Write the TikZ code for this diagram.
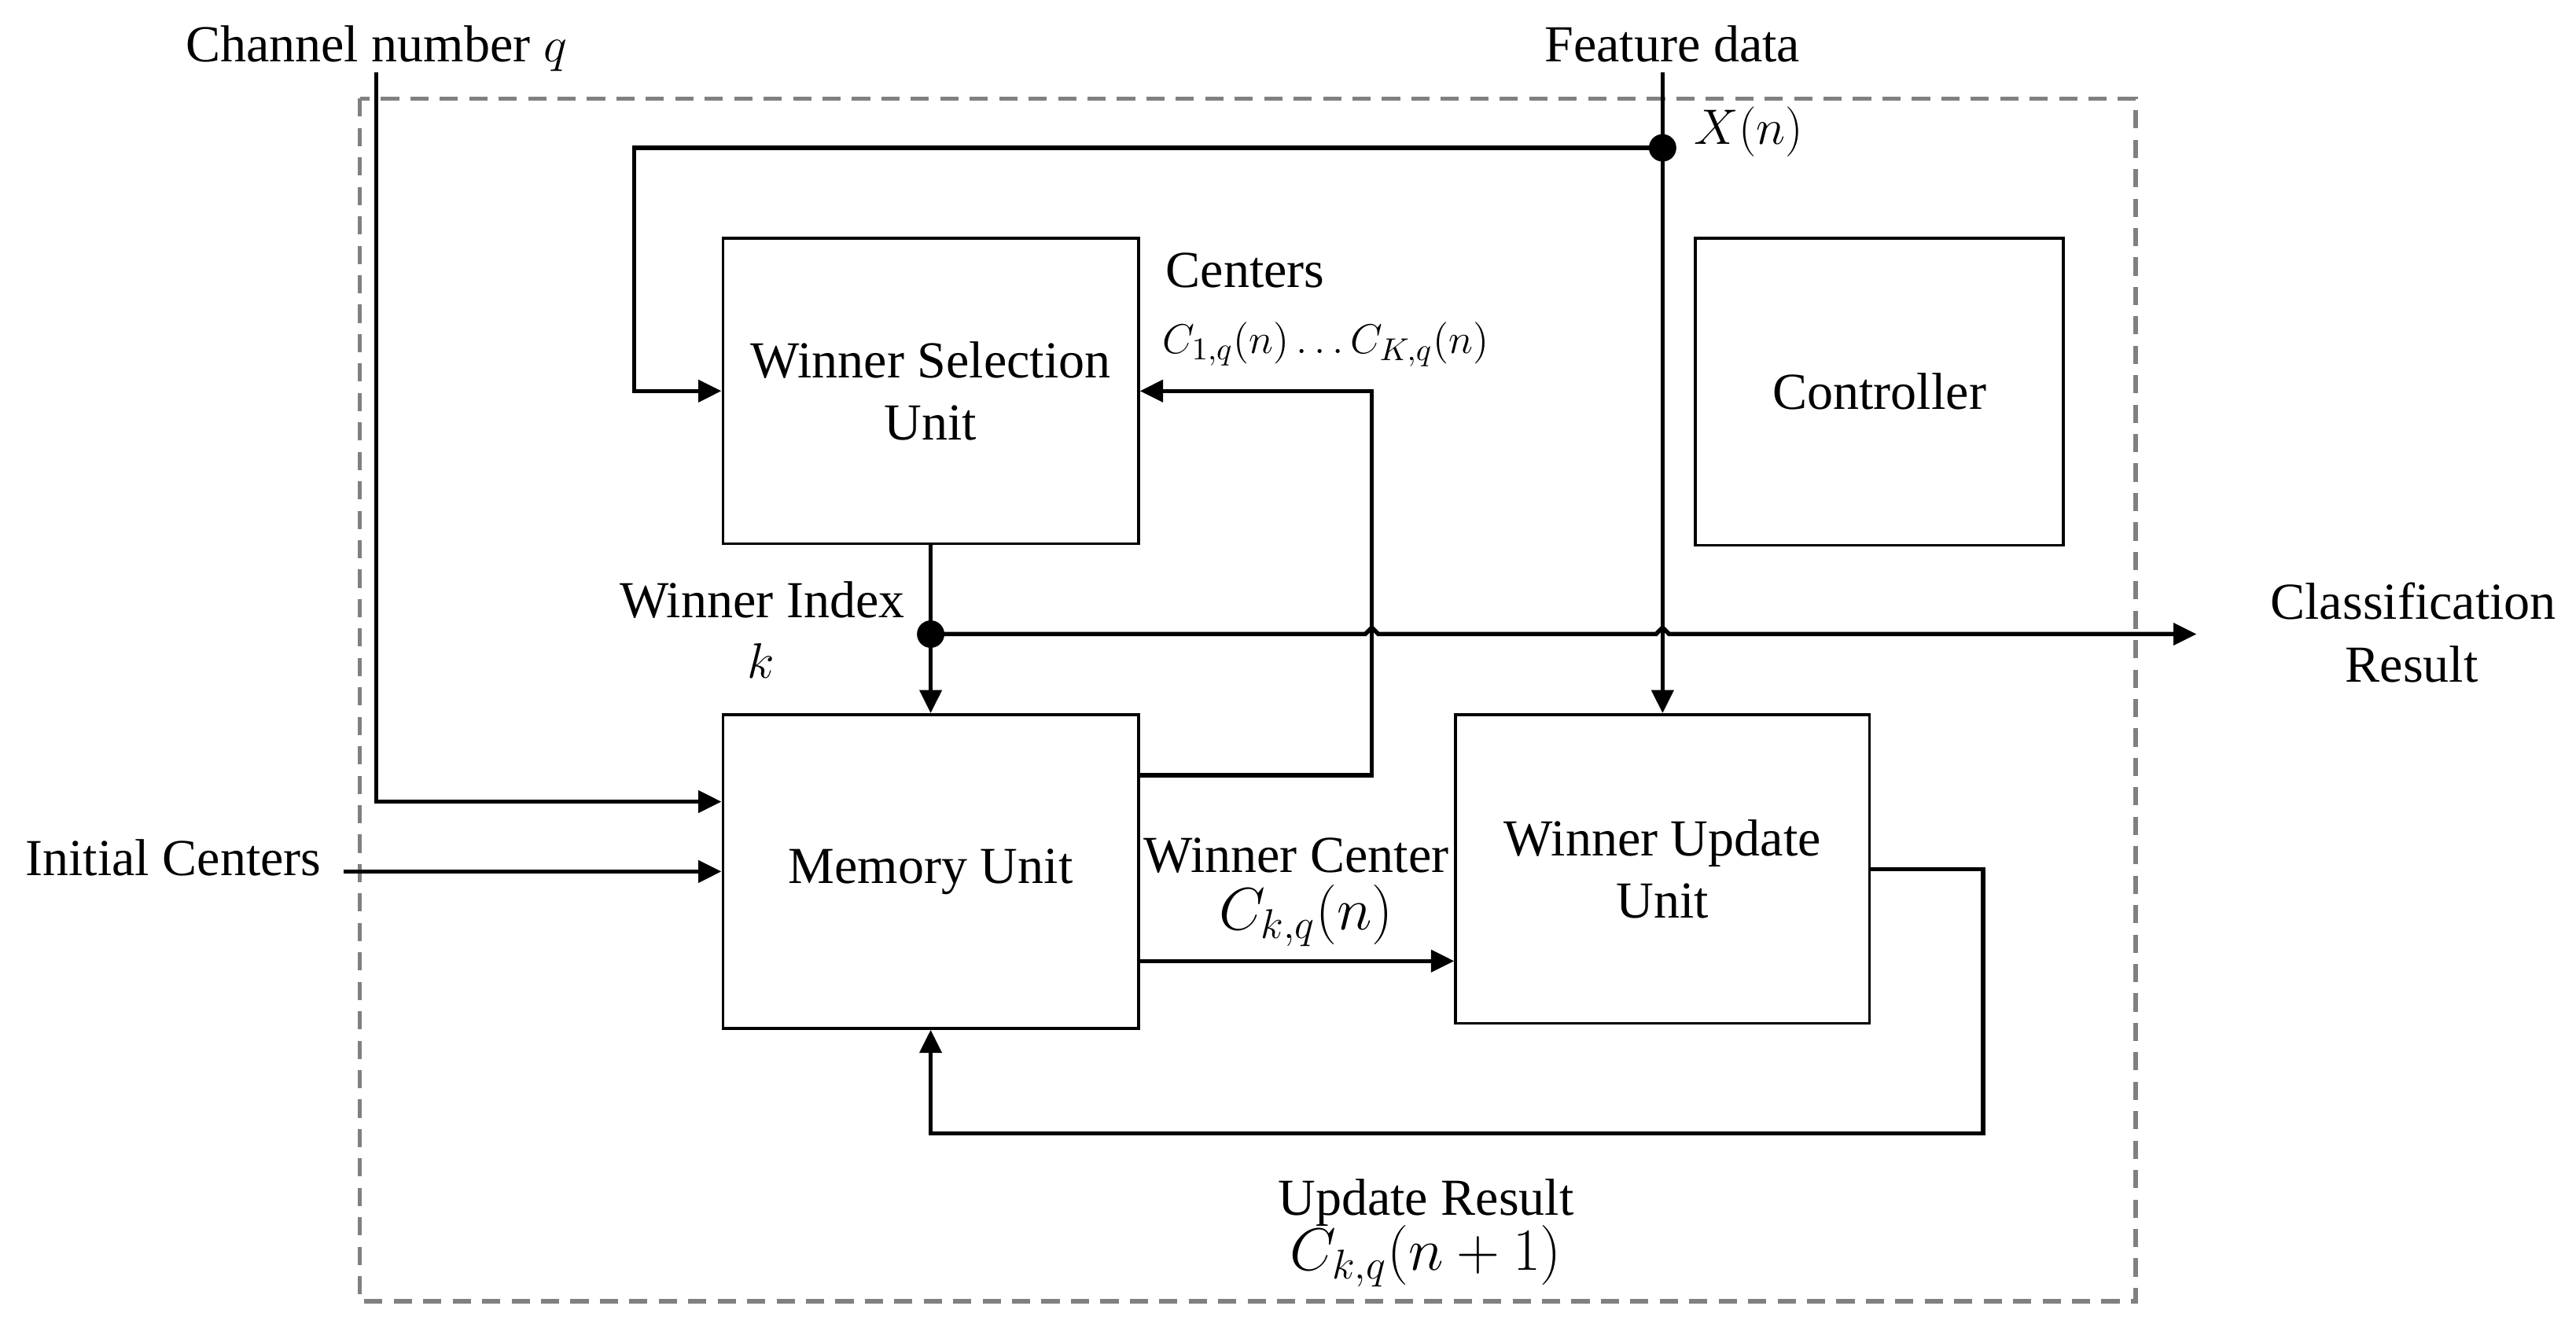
\documentclass[tikz,border=0pt]{standalone}
\usepackage{fontspec}
\setmainfont{Liberation Serif}
\usetikzlibrary{arrows.meta,calc}
\begin{document}
\begin{tikzpicture}[x=0.02cm,y=-0.02cm,
  txt/.style={font=\fontsize{18}{21.6}\selectfont, inner sep=0pt},
  mtxt/.style={font=\fontsize{19}{22}\selectfont, inner sep=0pt},
  btxt/.style={font=\fontsize{21.5}{24}\selectfont, inner sep=0pt},
  stxt/.style={font=\fontsize{15}{18}\selectfont, inner sep=0pt},
  blk/.style={draw, line width=1.0pt, inner sep=0pt, align=center, font=\fontsize{18}{21.6}\selectfont},
  wire/.style={line width=1.5pt},
  conn/.style={wire, -{Triangle[length=8pt,width=7.5pt]}},
  jdot/.style={circle, fill=black, inner sep=0pt, minimum size=9.5pt},
  dashbox/.style={draw=black!50, line width=1.5pt, dash pattern=on 6.3pt off 3.9pt}]
\useasboundingbox (0,0) rectangle (1568,808.4);

% outer dashed boundary
\draw[dashbox] (219,60) rectangle (1300,792);

% blocks
\node[blk, minimum width=5.06cm, minimum height=3.72cm] (ws) at (566.5,238) {Winner Selection\\Unit};
\node[blk, minimum width=4.48cm, minimum height=3.74cm] (ctrl) at (1144,238.5) {Controller};
\node[blk, minimum width=5.06cm, minimum height=3.82cm] (mem) at (566.5,530.5) {Memory Unit};
\node[blk, minimum width=5.04cm, minimum height=3.76cm] (wu) at (1012,529) {Winner Update\\Unit};

% labels
\node[txt, anchor=base] (chl) at (229,37.6) {Channel number $q$};
\node[txt, anchor=base] (fdl) at (1018,37.6) {Feature data};
\node[mtxt, anchor=base west] (xl) at (1031,88) {$X(n)$};
\node[txt, anchor=base] (cenl) at (758,175) {Centers};
\node[stxt, anchor=base] (cenm) at (807,215) {$C_{1,q}(n)\ldots C_{K,q}(n)$};
\node[txt, anchor=base] (wil) at (464,376) {Winner Index};
\node[txt, anchor=base] (kl) at (463,413) {$k$};
\node[txt, anchor=base] (cl1) at (1469,377) {Classification};
\node[txt, anchor=base] (cl2) at (1468,415) {Result};
\node[txt, anchor=base] (icl) at (105.5,533) {Initial Centers};
\node[txt, anchor=base] (wcl) at (789,531) {Winner Center};
\node[btxt, anchor=base] (wcm) at (795,566) {$C_{k,q}(n)$};
\node[txt, anchor=base] (url) at (868,739.6) {Update Result};
\node[btxt, anchor=base] (urm) at (868,773) {$C_{k,q}(n+1)$};

% coordinates
\coordinate (chtop) at (229,44);
\coordinate (chy) at (0,488);
\coordinate (fdtop) at (1012,44);
\coordinate (xcorner) at (386,90);
\coordinate (mout) at (693,472);
\coordinate (mcorner) at (835,472);
\coordinate (wcy) at (0,585);
\coordinate (fb1) at (1207,529);
\coordinate (fb2) at (1207,690);
\coordinate (cout) at (1337,386);
\coordinate (icstart) at (209,530.5);

% connectors
\draw[conn] (chtop) |- (mem.west |- chy);
\draw[conn] (icstart) -- (mem.west);
\draw[wire] (fdtop) -- (1012,90);
\draw[conn] (1012,90) -- (wu.north);
\draw[conn] (1012,90) -- (xcorner) |- (ws.west);
\draw[conn] (mout) -- (mcorner) |- (ws.east);
\draw[wire] (ws.south) -- (566.5,386);
\draw[conn] (566.5,386) -- (mem.north);
\draw[conn] (566.5,386) -- (831,386) -- ++(4,-4) -- ++(4,4) -- (1008,386) -- ++(4,-4) -- ++(4,4) -- (cout);
\draw[conn] (mem.east |- wcy) -- (wu.west |- wcy);
\draw[conn] (wu.east) -- (fb1) -- (fb2) -| (mem.south);

% junction dots
\node[jdot] (xdot) at (1012,90) {};
\node[jdot] (kdot) at (566.5,386) {};
\end{tikzpicture}
\end{document}
